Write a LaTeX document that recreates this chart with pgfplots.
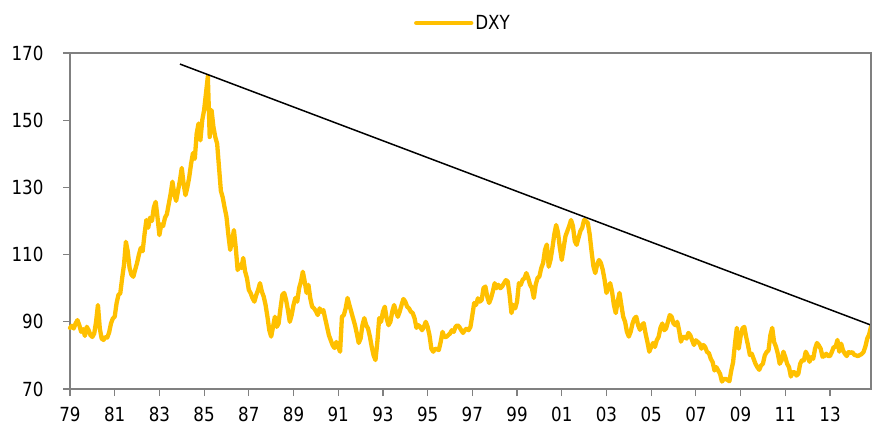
\documentclass[border=0pt]{standalone}
\usepackage{fontspec}
\setmainfont{DejaVu Sans}[FakeStretch=0.86]
\usepackage{pgfplots}
\usepackage{pgfplotstable}
\pgfplotsset{compat=1.18}
\definecolor{dxygold}{HTML}{FFC000}
\definecolor{axgray}{HTML}{808080}
\pgfplotstableread[row sep=\\]{
v\\
88.2\\ 88.8\\ 88.0\\ 89.5\\ 90.5\\ 89.0\\ 87.0\\ 87.8\\ 85.8\\ 88.5\\ 87.5\\ 86.0\\
85.5\\ 86.5\\ 90.0\\ 95.0\\ 88.0\\ 85.0\\ 84.6\\ 85.5\\ 85.3\\ 86.8\\ 89.5\\ 91.0\\
91.5\\ 95.5\\ 98.0\\ 98.5\\ 103.0\\ 107.0\\ 113.8\\ 111.0\\ 106.0\\ 104.0\\ 103.4\\ 105.5\\
107.5\\ 110.0\\ 112.0\\ 111.0\\ 116.0\\ 120.3\\ 118.0\\ 121.0\\ 120.0\\ 124.0\\ 125.7\\ 121.0\\
115.8\\ 119.0\\ 118.5\\ 121.0\\ 122.0\\ 125.0\\ 128.0\\ 131.7\\ 128.0\\ 126.0\\ 129.0\\ 132.0\\
135.8\\ 131.0\\ 127.7\\ 130.0\\ 133.0\\ 137.0\\ 140.2\\ 138.5\\ 146.0\\ 149.0\\ 144.0\\ 150.0\\
153.0\\ 158.0\\ 163.0\\ 145.0\\ 153.0\\ 148.0\\ 145.0\\ 143.0\\ 136.0\\ 129.0\\ 127.0\\ 124.0\\
121.3\\ 116.0\\ 111.4\\ 114.0\\ 117.3\\ 112.0\\ 105.4\\ 107.0\\ 106.0\\ 109.0\\ 105.0\\ 103.0\\
99.5\\ 98.5\\ 97.0\\ 96.0\\ 98.0\\ 99.5\\ 101.5\\ 99.0\\ 97.5\\ 95.0\\ 91.5\\ 87.5\\
85.6\\ 88.5\\ 91.5\\ 88.5\\ 89.5\\ 94.0\\ 98.0\\ 98.6\\ 96.5\\ 93.5\\ 90.0\\ 92.0\\
95.0\\ 97.1\\ 96.0\\ 100.0\\ 102.0\\ 104.9\\ 102.0\\ 98.6\\ 101.0\\ 97.0\\ 94.5\\ 94.0\\
93.2\\ 92.0\\ 94.0\\ 93.0\\ 93.5\\ 91.0\\ 88.5\\ 86.0\\ 84.5\\ 83.0\\ 82.2\\ 84.0\\
82.5\\ 81.1\\ 91.5\\ 92.0\\ 94.0\\ 97.1\\ 95.0\\ 93.0\\ 91.0\\ 89.0\\ 86.5\\ 83.7\\
85.0\\ 89.0\\ 91.1\\ 89.0\\ 88.0\\ 85.6\\ 82.5\\ 80.0\\ 78.6\\ 84.0\\ 91.1\\ 90.0\\
93.0\\ 94.5\\ 91.0\\ 89.0\\ 90.0\\ 93.0\\ 95.0\\ 93.0\\ 91.5\\ 93.0\\ 95.0\\ 96.8\\
96.0\\ 94.5\\ 94.0\\ 93.0\\ 92.6\\ 91.0\\ 88.2\\ 89.0\\ 88.5\\ 87.5\\ 88.5\\ 90.0\\
88.5\\ 86.0\\ 82.0\\ 81.1\\ 82.0\\ 81.8\\ 81.6\\ 84.0\\ 87.0\\ 85.5\\ 85.5\\ 86.0\\
86.5\\ 87.5\\ 87.0\\ 88.5\\ 89.0\\ 88.5\\ 87.5\\ 86.7\\ 87.5\\ 88.0\\ 87.5\\ 88.5\\
92.0\\ 95.6\\ 95.0\\ 97.0\\ 96.0\\ 96.5\\ 100.0\\ 100.5\\ 97.5\\ 95.6\\ 97.0\\ 99.0\\
101.5\\ 100.0\\ 101.0\\ 100.0\\ 100.5\\ 101.5\\ 102.4\\ 102.0\\ 98.0\\ 92.6\\ 95.0\\ 94.0\\
96.0\\ 101.5\\ 101.0\\ 102.5\\ 103.0\\ 104.5\\ 103.0\\ 101.0\\ 100.0\\ 97.1\\ 101.0\\ 103.0\\
103.5\\ 106.0\\ 107.5\\ 111.4\\ 113.0\\ 106.4\\ 108.5\\ 112.0\\ 116.0\\ 118.8\\ 116.5\\ 112.0\\
108.4\\ 112.0\\ 115.5\\ 117.0\\ 118.5\\ 120.3\\ 118.5\\ 114.0\\ 112.9\\ 115.0\\ 117.0\\ 118.0\\
120.3\\ 120.0\\ 119.4\\ 116.0\\ 111.0\\ 106.5\\ 104.5\\ 107.0\\ 108.4\\ 107.5\\ 105.5\\ 102.5\\
98.6\\ 100.0\\ 101.5\\ 99.0\\ 95.0\\ 92.6\\ 96.0\\ 98.6\\ 95.0\\ 91.5\\ 90.0\\ 87.0\\
85.6\\ 87.0\\ 89.5\\ 91.0\\ 91.5\\ 89.0\\ 87.6\\ 89.0\\ 89.6\\ 86.5\\ 84.0\\ 81.1\\
82.5\\ 83.7\\ 82.5\\ 84.5\\ 85.5\\ 88.2\\ 89.5\\ 87.5\\ 88.0\\ 90.0\\ 92.0\\ 91.5\\
89.5\\ 89.0\\ 90.0\\ 87.5\\ 84.1\\ 85.5\\ 85.5\\ 85.0\\ 86.7\\ 86.0\\ 84.5\\ 83.1\\
84.5\\ 84.0\\ 83.5\\ 82.0\\ 83.1\\ 82.5\\ 81.0\\ 80.7\\ 79.0\\ 78.0\\ 75.5\\ 76.5\\
75.5\\ 74.5\\ 72.2\\ 73.0\\ 73.0\\ 72.7\\ 72.3\\ 75.5\\ 78.0\\ 83.5\\ 88.2\\ 82.0\\
85.6\\ 88.0\\ 88.5\\ 85.5\\ 83.0\\ 80.1\\ 80.5\\ 79.0\\ 77.5\\ 76.5\\ 75.7\\ 77.0\\
77.5\\ 80.0\\ 81.0\\ 81.5\\ 86.0\\ 88.2\\ 84.0\\ 82.6\\ 80.5\\ 77.5\\ 78.5\\ 81.1\\
79.5\\ 77.5\\ 76.5\\ 73.7\\ 75.0\\ 75.0\\ 74.0\\ 74.5\\ 77.5\\ 78.6\\ 78.5\\ 81.1\\
80.0\\ 78.1\\ 79.5\\ 79.0\\ 82.0\\ 83.7\\ 83.0\\ 82.0\\ 79.6\\ 79.8\\ 80.5\\ 79.8\\
79.8\\ 81.0\\ 82.5\\ 82.5\\ 84.6\\ 81.1\\ 83.5\\ 81.5\\ 80.5\\ 79.8\\ 81.0\\ 80.7\\
81.0\\ 80.2\\ 80.0\\ 79.8\\ 80.1\\ 80.4\\ 81.0\\ 82.6\\ 85.0\\ 86.2\\ 88.5\\
}\dxy
\begin{document}
\begin{tikzpicture}
\begin{axis}[
  scale only axis,
  width=802bp, height=336bp,
  xmin=1979, xmax=2014.88,
  ymin=70, ymax=170,
  axis line style={axgray, line width=1.5bp},
  every tick/.style={axgray, line width=1.2bp},
  tick align=outside,
  major tick length=7bp,
  xtick={1979,1981,...,2013},
  xticklabels={79,81,83,85,87,89,91,93,95,97,99,01,03,05,07,09,11,13},
  ytick={70,90,110,130,150,170},
  yticklabels={70,90,110,130,150,170},
  xtick pos=bottom, ytick pos=left,
  tick label style={font=\fontsize{19.5}{23}\selectfont, text=black},
  yticklabel style={xshift=-16bp},
  xticklabel style={yshift=-8bp},
  legend style={draw=none, fill=none, at={(axis description cs:0.49,1)}, anchor=south, yshift=18bp,
    font=\fontsize{19.5}{23}\selectfont, legend cell align=left},
  legend image code/.code={\draw[#1] (0bp,0bp) -- (55bp,0bp);},
  clip=false,
]
\addplot[dxygold, line width=4.3bp, line join=round, line cap=round]
  table[x expr=1979+\coordindex/12, y=v] {\dxy};
\addlegendentry{DXY}
\addplot[black, line width=1.5bp, forget plot] coordinates {(1983.92,166.7) (2014.88,88.9)};
\end{axis}
\draw[axgray, line width=2.2bp] (-7bp,336bp) -- (800.8bp,336bp) -- (800.8bp,0bp);
\pgfresetboundingbox
\path[use as bounding box] (-70bp,-36bp) rectangle (802bp,389bp);
\end{tikzpicture}
\end{document}
